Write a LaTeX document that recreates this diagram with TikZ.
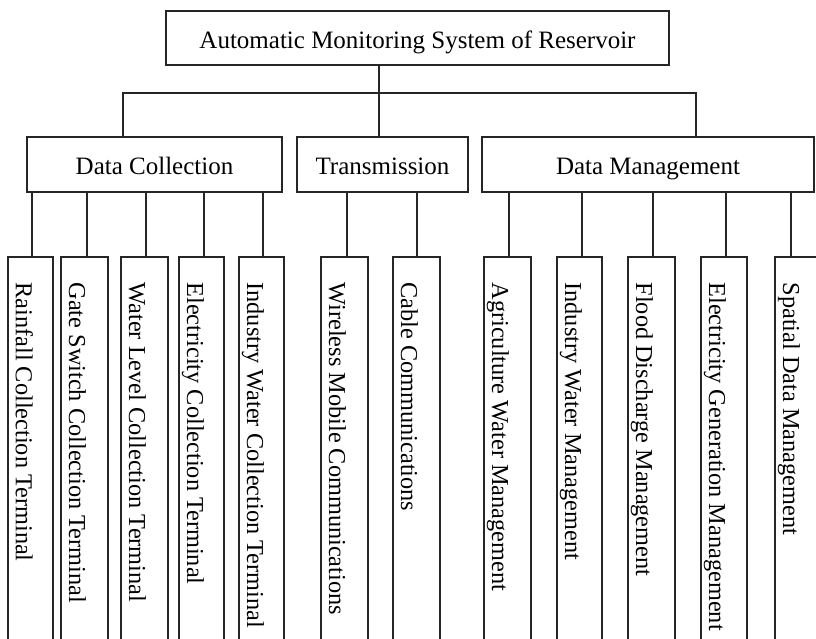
\documentclass[tikz,border=0pt]{standalone}
\usepackage{fontspec}
\setmainfont{Liberation Serif}
\begin{document}
\begin{tikzpicture}[x=1pt,y=-1pt,line width=1.2pt,
  ln/.style={draw=black!85,line width=1.2pt},
  topbox/.style={ln,rectangle,inner sep=0pt,outer sep=0pt,minimum height=54pt,
    text height=22pt,text depth=0pt,font=\fontsize{25}{30}\selectfont},
  midbox/.style={ln,rectangle,inner sep=0pt,outer sep=0pt,minimum height=55pt,
    text height=21pt,text depth=0pt,font=\fontsize{25}{30}\selectfont},
  leafbox/.style={ln,rectangle,inner sep=0pt,outer sep=0pt,minimum height=400pt,anchor=north west},
  vtext/.style={rotate=-90,anchor=base west,inner sep=0pt,font=\fontsize{24.3}{29}\selectfont}]
\useasboundingbox (0,0) rectangle (816,639);
\clip (0,0) rectangle (816,639);
\fill[white] (0,0) rectangle (816,639);

\node[topbox,minimum width=503pt] (sys) at (417.5,38) {Automatic Monitoring System of Reservoir};
\node[midbox,minimum width=255pt] (dc) at (154.5,164.5) {Data Collection};
\node[midbox,minimum width=171pt] (tr) at (382.5,164.5) {Transmission};
\node[midbox,minimum width=332pt] (dm) at (648,164.5) {Data Management};

\coordinate (bus) at (379,93);
\coordinate (bl) at (123,93);
\coordinate (br) at (696,93);
\draw[ln] (sys.south -| bus) -- (bus |- tr.north);
\draw[ln] (bl |- dc.north) -- (bl) -- (br) -- (br |- dm.north);

\foreach \i/\l/\w/\k/\p/\t in {
  1/8/45/32/dc/Rainfall Collection Terminal,
  2/61/47/87/dc/Gate Switch Collection Terminal,
  3/121/47/146/dc/Water Level Collection Terminal,
  4/179/45/204/dc/Electricity Collection Terminal,
  5/239/45/263/dc/Industry Water Collection Terminal,
  6/321/47/347/tr/Wireless Mobile Communications,
  7/393/47/417/tr/Cable Communications,
  8/484/47/509/dm/Agriculture Water Management,
  9/557/45/582/dm/Industry Water Management,
  10/628/47/653/dm/Flood Discharge Management,
  11/701/46/726/dm/Electricity Generation Management,
  12/775/60/791/dm/Spatial Data Management}{
  \node[leafbox,minimum width=\w pt] (r\i) at (\l,257) {};
  \node[vtext] (t\i) at (\l+8,282) {\t};
  \coordinate (k\i) at (\k,257);
  \draw[ln] (k\i |- \p.south) -- (k\i);
}
\end{tikzpicture}
\end{document}
